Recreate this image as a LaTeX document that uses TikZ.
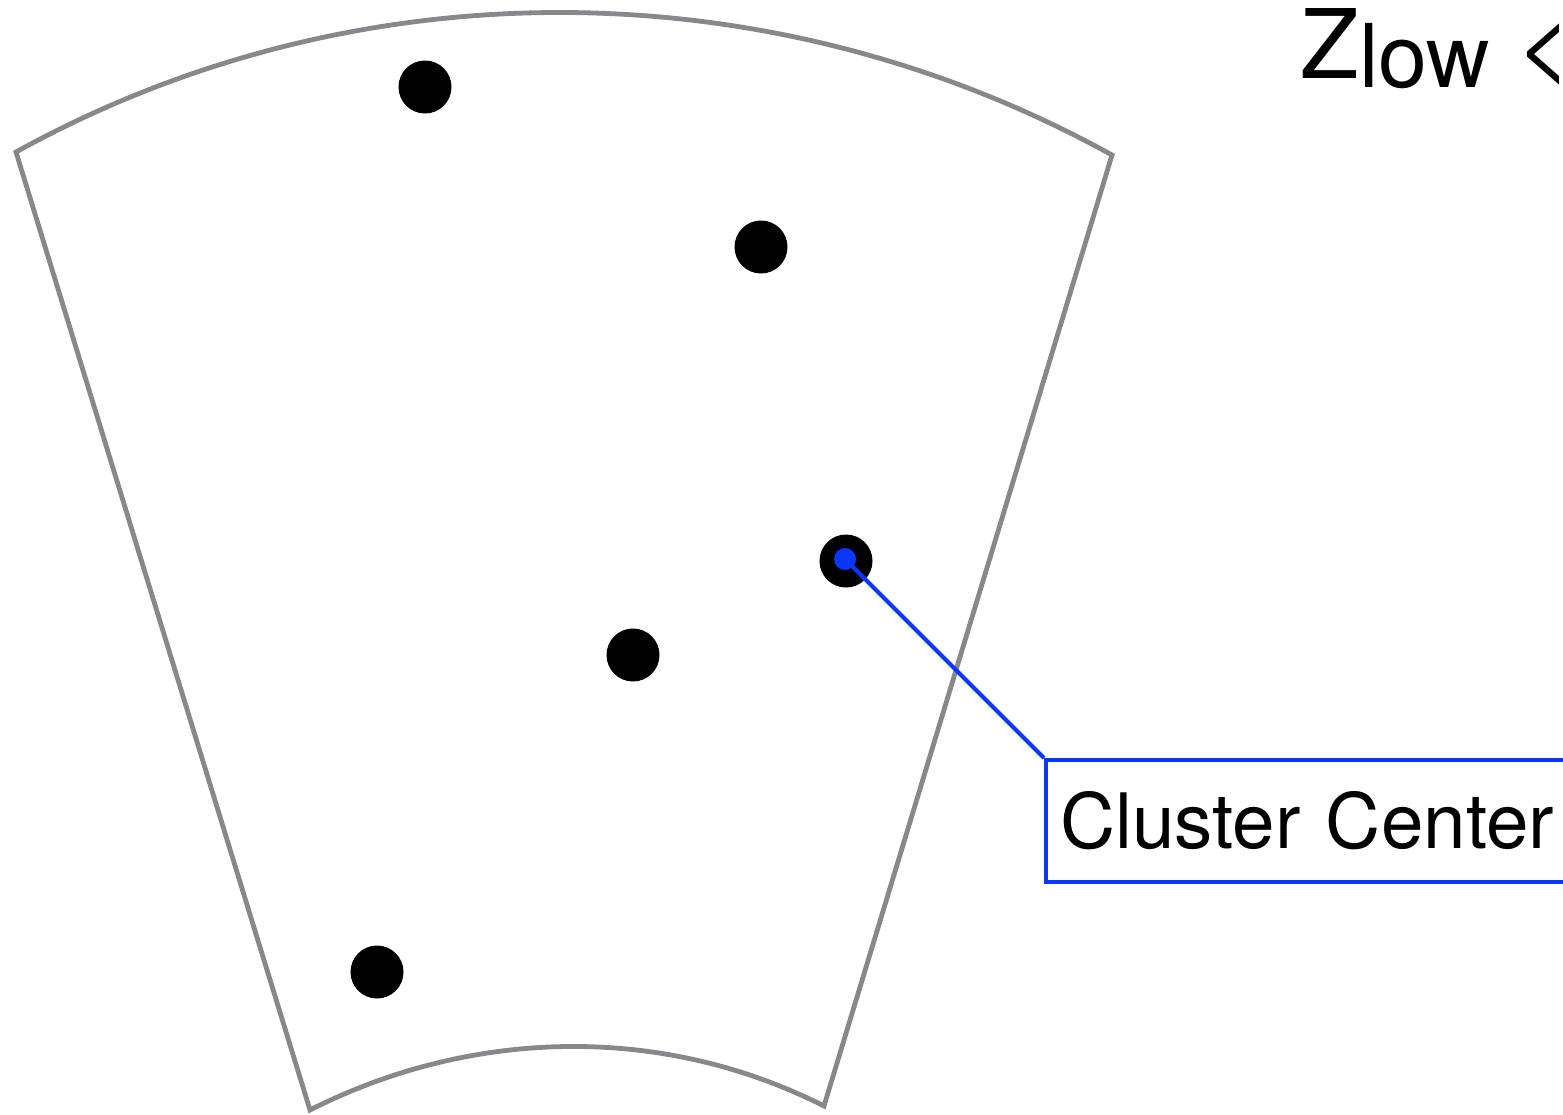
\documentclass[tikz,border=0pt]{standalone}
\usepackage{fontspec}
\setmainfont{TeX Gyre Heros}
\definecolor{sectorgray}{RGB}{134,136,140}
\definecolor{centerblue}{RGB}{10,55,255}
\tikzset{
  sector/.style={draw=sectorgray, line width=2.4pt, line join=miter},
  galaxy/.style={circle, fill=black, inner sep=0pt, minimum size=26.5pt},
  centerdot/.style={circle, fill=centerblue, inner sep=0pt, minimum size=11pt},
  labelbox/.style={draw=centerblue, line width=2pt, anchor=north west, minimum height=61pt,
    text width=286pt, inner xsep=7pt, align=left, font=\fontsize{38.2}{42}\selectfont},
  leader/.style={draw=centerblue, line width=2pt}
}
\begin{document}
\begin{tikzpicture}[x=0.5pt,y=-0.5pt]
\useasboundingbox (0,0) rectangle (1563,1114);
\clip (0,0) rectangle (1563,1114);
\fill[white] (0,0) rectangle (1563,1114);
% sector outline
\coordinate (tl) at (16,152);
\coordinate (tr) at (1112,155);
\coordinate (br) at (824,1106);
\coordinate (bl) at (310,1110);
\draw[sector] (tl) .. controls (356,-36) and (772,-33) .. (tr)
  -- (br) .. controls (662,1024) and (472,1028) .. (bl) -- cycle;
% galaxies
\node[galaxy] (g1) at (425,87) {};
\node[galaxy] (g2) at (761,247) {};
\node[galaxy] (g3) at (846,561) {};
\node[galaxy] (g4) at (633,655) {};
\node[galaxy] (g5) at (377,972) {};
\node[centerdot] (cc) at (845,559) {};
% label
\node[labelbox] (box) at (1044,758) {Cluster Center};
\draw[leader] (cc.center) -- (box.north west);
% title
\node[anchor=base west, inner sep=0pt] (title) at (1300,78)
  {\fontsize{48}{52}\selectfont Z\raisebox{-4.5pt}{\fontsize{44}{48}\selectfont low} \textless};
\end{tikzpicture}
\end{document}
